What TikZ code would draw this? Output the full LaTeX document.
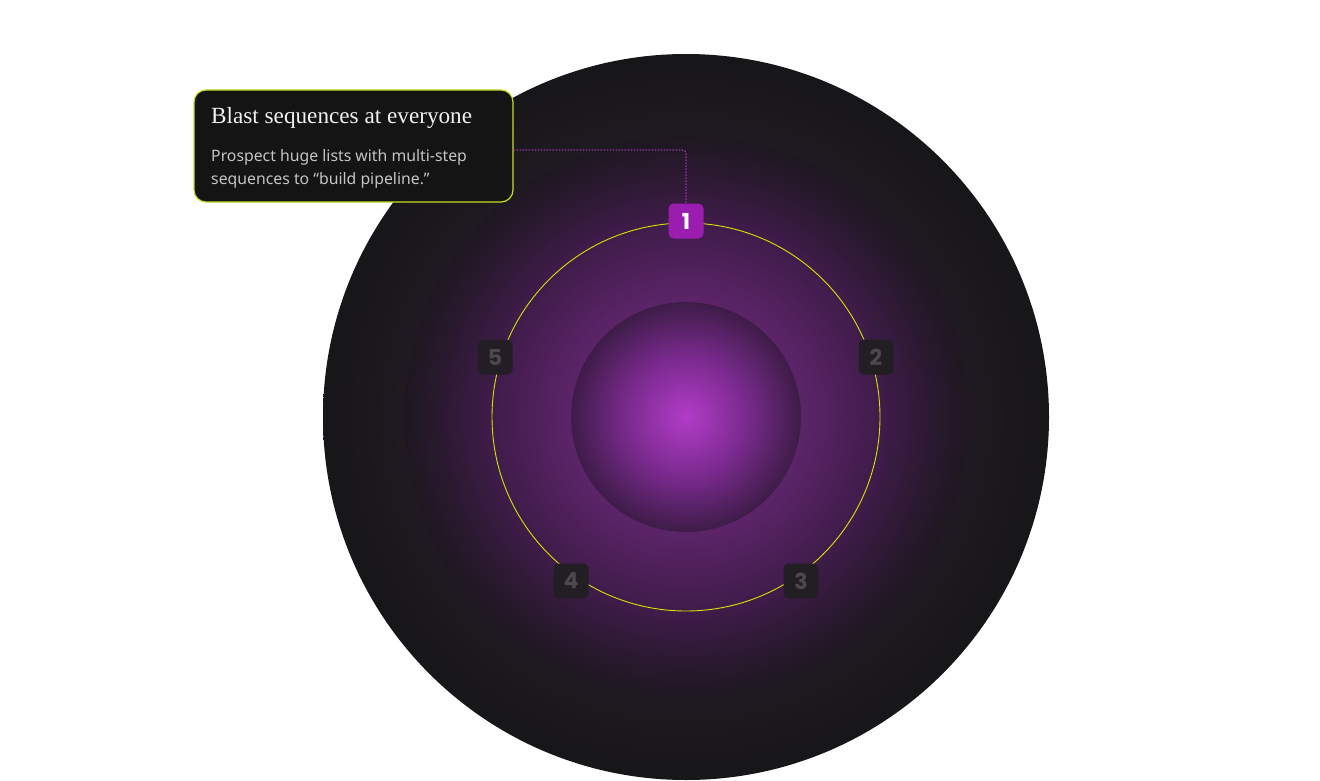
\documentclass[tikz,border=0pt]{standalone}
\usepackage{fontspec}
\setmainfont{Liberation Serif}
\newfontfamily\blurbfont{Noto Sans}
\newfontfamily\digitfont{Poppins}

\definecolor{discedge}{HTML}{171618}
\definecolor{discmid}{HTML}{1F1A21}
\definecolor{halohi}{HTML}{6A2A7C}
\definecolor{halocore}{HTML}{5C2468}
\definecolor{haloring}{HTML}{3F1C4A}
\definecolor{halofade}{HTML}{2A192F}
\definecolor{haloedge}{HTML}{1D1820}
\definecolor{corehi}{HTML}{B23CC8}
\definecolor{coremid}{HTML}{7A2A8E}
\definecolor{coreedge}{HTML}{3E1C48}
\definecolor{orbitline}{HTML}{D4E400}
\definecolor{noteline}{HTML}{C6DE22}
\definecolor{notefill}{HTML}{141414}
\definecolor{stepon}{HTML}{9A1DB0}
\definecolor{stepoff}{HTML}{221F24}
\definecolor{stepofftext}{HTML}{4B484E}
\definecolor{leadline}{HTML}{9632AC}

\pgfdeclareradialshading{discglow}{\pgfpointorigin}{color(0bp)=(discmid); color(19.4bp)=(discmid); color(25bp)=(discedge); color(50bp)=(discedge)}
\pgfdeclareradialshading{haloglow}{\pgfpointorigin}{color(0bp)=(halohi); color(10.2bp)=(halocore); color(17.3bp)=(haloring); color(22bp)=(halofade); color(25bp)=(haloedge); color(50bp)=(haloedge)}
\pgfdeclareradialshading{coreglow}{\pgfpointorigin}{color(0bp)=(corehi); color(13bp)=(coremid); color(25bp)=(coreedge); color(50bp)=(coreedge)}

\tikzset{
  orbit/.style={draw=orbitline, line width=0.9pt},
  stepbox/.style={rectangle, rounded corners=5pt, minimum size=35pt, inner sep=0pt,
    font=\digitfont\bfseries\fontsize{22}{22}\selectfont},
  stepactive/.style={stepbox, fill=stepon, text=white},
  stepidle/.style={stepbox, fill=stepoff, text=stepofftext},
  callout/.style={rectangle, rounded corners=12pt, draw=noteline, line width=1.2pt,
    fill=notefill, minimum width=319pt, minimum height=112pt, inner sep=0pt},
  notehead/.style={inner sep=0pt, anchor=base west, text=white!94!black,
    font=\fontsize{23.2}{25}\selectfont},
  noteline/.style={inner sep=0pt, anchor=base west, text=white!77!black,
    font=\blurbfont\fontsize{15.8}{18}\selectfont},
  leader/.style={draw=leadline, line width=1.4pt, dash pattern=on 1.4pt off 1.6pt, rounded corners=4pt}
}

\begin{document}
\begin{tikzpicture}[x=1pt,y=-1pt]
  \useasboundingbox (0,0) rectangle (1320,781);

  % rings round the centre
  \coordinate (C) at (686,417);
  \shade[shading=discglow] (C) circle (363pt);
  \shade[shading=haloglow] (C) circle (281pt);
  \shade[shading=coreglow] (C) circle (115pt);

  % orbit of the steps
  \draw[orbit] (C) circle (194pt);

  % step marks
  \node[stepactive] (s1) at (686,221) {1};
  \node[stepidle] (s2) at (876,357) {2};
  \node[stepidle] (s3) at (801,581) {3};
  \node[stepidle] (s4) at (571,581) {4};
  \node[stepidle] (s5) at (495,357) {5};

  % callout for step 1
  \node[callout] (note) at (353.5,146) {};
  \node[notehead] (notetitle) at (211,124) {Blast sequences at everyone};
  \node[noteline] (notebodya) at (211,161) {Prospect huge lists with multi-step};
  \node[noteline] (notebodyb) at (211,184) {sequences to “build pipeline.”};

  % leader from callout to step 1
  \coordinate (tap) at (note.east |- 0,150);
  \draw[leader] (tap) -| (s1.north);
\end{tikzpicture}
\end{document}
